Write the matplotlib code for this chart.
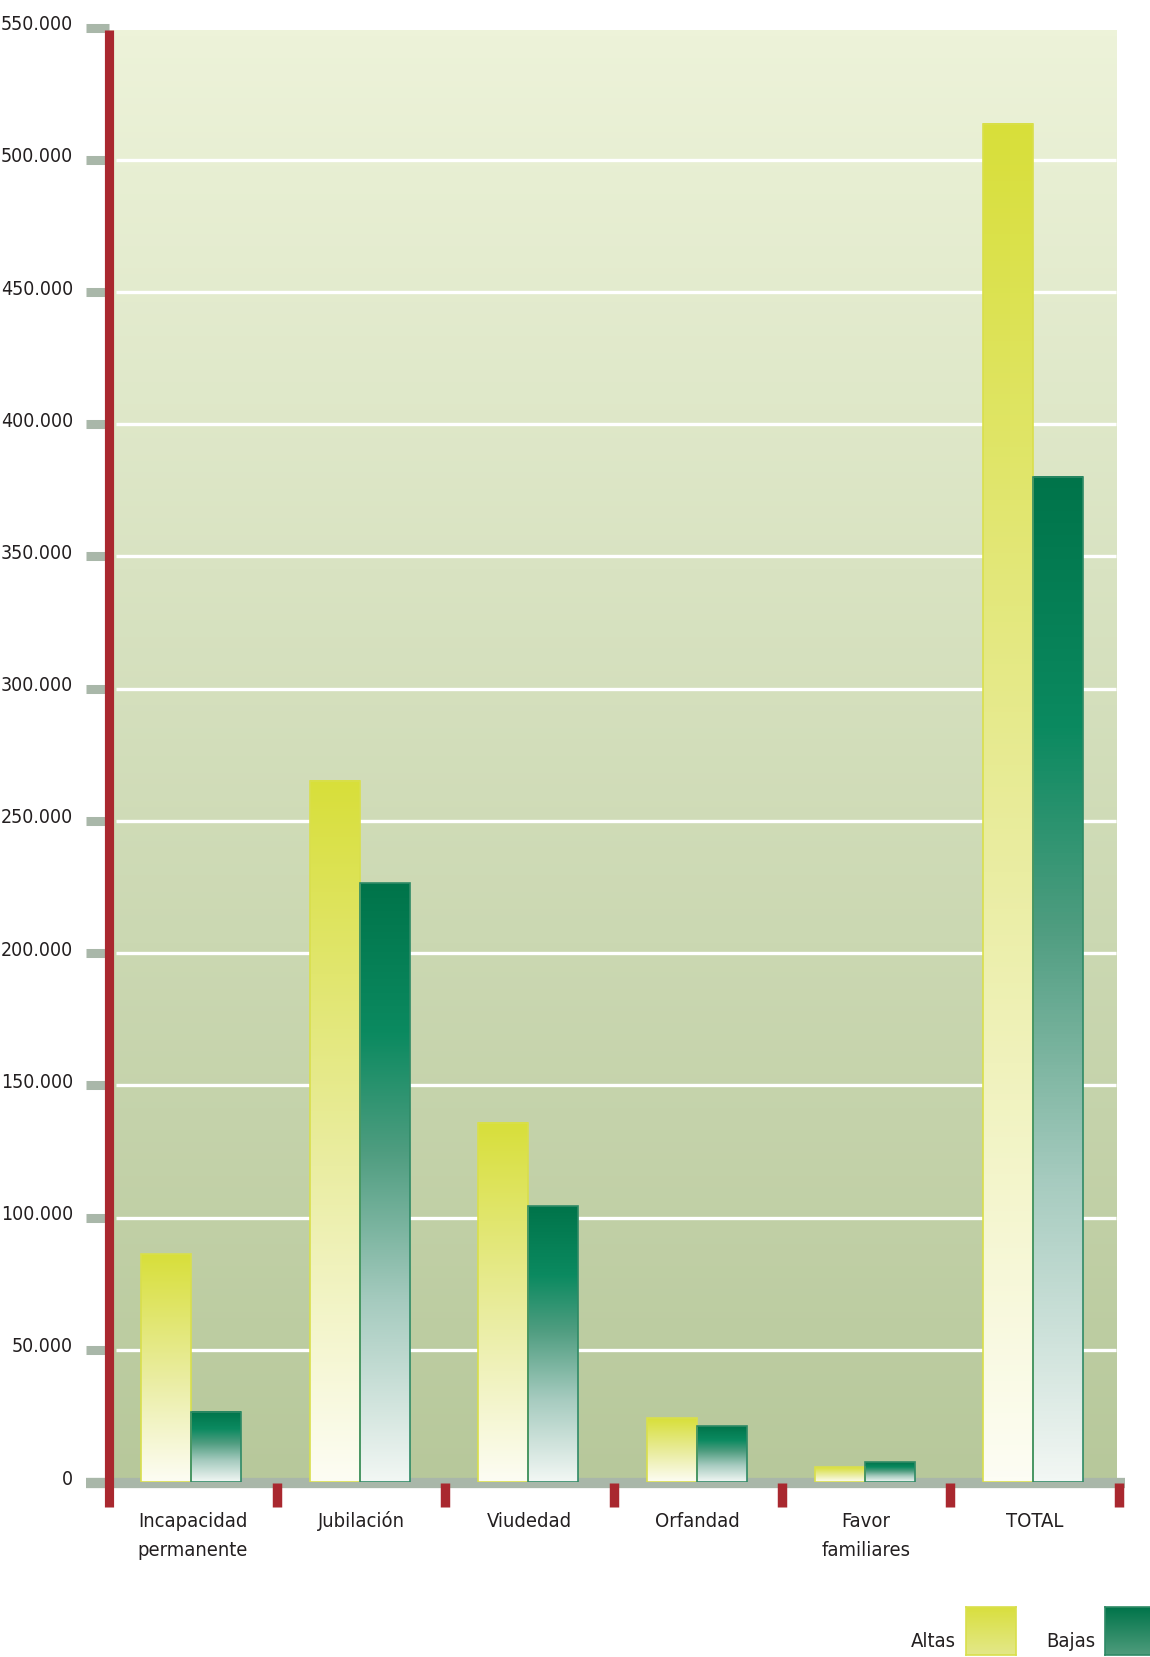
import matplotlib

matplotlib.use("Agg")
import matplotlib.pyplot as plt  # noqa: E402
import numpy as np  # noqa: E402
from matplotlib.colors import LinearSegmentedColormap  # noqa: E402
from matplotlib.patches import Rectangle  # noqa: E402

plt.rcParams["font.family"] = ["DejaVu Sans"]
plt.rcParams["font.stretch"] = "condensed"

# ---- data ----
categories = ["Incapacidad\npermanente", "Jubilación", "Viudedad", "Orfandad",
              "Favor\nfamiliares", "TOTAL"]
altas = [86200, 265200, 135800, 24200, 5500, 513600]
bajas = [26600, 226400, 104200, 21100, 7500, 380100]
yticks = list(range(0, 550001, 50000))
ytick_labels = ["0"] + [f"{v // 1000}.000" for v in yticks[1:]]
legend_labels = ["Altas", "Bajas"]

W, H = 1150, 1658
TXT = "#231f20"
RED = "#a9282f"
GREY = "#a9b7a9"
FS = 14.5

cm_altas = LinearSegmentedColormap.from_list(
    "altas", [(0, "#fdfdf4"), (0.45, "#eaeda2"), (1, "#d8df3a")])
cm_bajas = LinearSegmentedColormap.from_list(
    "bajas", [(0, "#f2f7f4"), (0.3, "#a6cbbf"), (0.55, "#4f9d80"),
              (0.75, "#0b8a60"), (1, "#00744a")])
cm_bg = LinearSegmentedColormap.from_list("bg", ["#b7c89b", "#edf3d9"])


def px2fig(x0, y0, x1, y1):
    # pixel box (top-left origin) -> figure fraction rect
    return [x0 / W, 1 - y1 / H, (x1 - x0) / W, (y1 - y0) / H]


fig = plt.figure(figsize=(W / 100, H / 100), dpi=100)
ax = fig.add_axes(px2fig(108.5, 28.6, 1118.6, 1483))
ax.axis("off")

# background gradient
grad = np.linspace(0, 1, 256).reshape(-1, 1)
ax.imshow(grad, cmap=cm_bg, origin="lower", aspect="auto",
          extent=(0, 5.985, 0, 549000), zorder=0)

# white gridlines
for v in yticks[1:-1]:
    ax.plot([0.045, 5.985], [v, v], color="white", lw=2.4, zorder=1,
            solid_capstyle="butt")

# baseline + grey tick marks
ax.plot([-0.134, 6.04], [-400, -400], color=GREY, lw=7.4, zorder=1.5,
        solid_capstyle="butt", clip_on=False)
for v in yticks:
    ax.plot([-0.134, 0], [v, v], color=GREY, lw=6.5, zorder=1.5,
            solid_capstyle="butt", clip_on=False)

# bars with vertical gradients
bw = 0.297
for i, (a, b) in enumerate(zip(altas, bajas)):
    c = i + 0.493
    for x0, h, cmap, ec in [(c - bw, a, cm_altas, "#d9df4c"),
                            (c, b, cm_bajas, "#2f8a66")]:
        ax.imshow(grad, cmap=cmap, origin="lower", aspect="auto",
                  extent=(x0, x0 + bw, 0, h), zorder=2)
        ax.add_patch(Rectangle((x0, 0), bw, h, fill=False, ec=ec, lw=1.2,
                               zorder=3))
ax.set_xlim(0, 6)
ax.set_ylim(0, 550000)

# red axis + category separators
ax.plot([0, 0], [-9500, 549200], color=RED, lw=6.6, zorder=4,
        solid_capstyle="butt", clip_on=False)
for k in range(1, 7):
    ax.plot([k, k], [-300, -9500], color=RED, lw=6.8, zorder=4,
            solid_capstyle="butt", clip_on=False)

# y tick labels
for v, lab in zip(yticks, ytick_labels):
    ax.text(-0.211, v - 600, lab, ha="right", va="baseline", fontsize=14,
            color=TXT, clip_on=False)

# category labels
for i, lab in enumerate(categories):
    xc = 108.5 + (i + 0.5) * 168.35
    for k, line in enumerate(lab.split("\n")):
        fig.text(xc / W, 1 - (1527 + 29 * k) / H, line, ha="center",
                 va="baseline", fontsize=FS, color=TXT)

# legend
leg_boxes = [(966, 1016), (1105, 1155)]
leg_cmaps = [
    LinearSegmentedColormap.from_list("la", ["#e3e88a", "#d9df3e"]),
    LinearSegmentedColormap.from_list("lb", ["#4f9c7c", "#00744a"]),
]
leg_edges = ["#d9df4c", "#2f8a66"]
for lab, (x0, x1), cmap, ec in zip(legend_labels, leg_boxes, leg_cmaps, leg_edges):
    lax = fig.add_axes(px2fig(x0, 1608, x1, 1656))
    lax.imshow(grad, cmap=cmap, origin="lower", aspect="auto",
               extent=(0, 1, 0, 1))
    lax.set_xticks([])
    lax.set_yticks([])
    for s in lax.spines.values():
        s.set_color(ec)
        s.set_linewidth(1.2)
    fig.text((x0 - 10) / W, 1 - 1647 / H, lab, ha="right", va="baseline",
             fontsize=FS, color=TXT)

fig.savefig("out.png", dpi=100)
